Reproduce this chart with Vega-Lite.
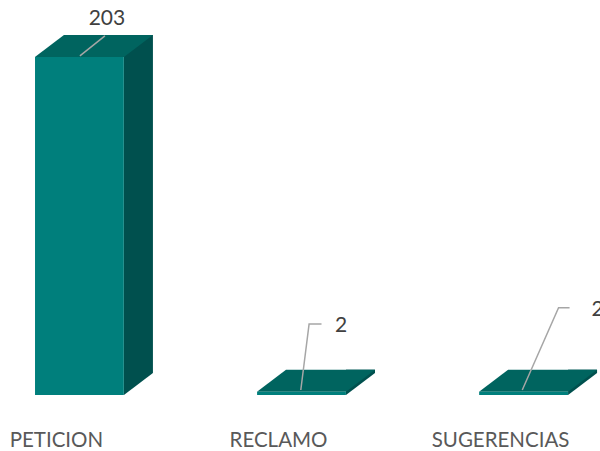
{
  "$schema": "https://vega.github.io/schema/vega-lite/v6.json",
  "width": 600,
  "height": 395,
  "autosize": {"type": "none"},
  "padding": {"left": 0, "top": 0, "right": 0, "bottom": 56},
  "background": "white",
  "config": {"view": {"stroke": null}},
  "data": {"values": [
    {"category": "PETICION", "value": 203},
    {"category": "RECLAMO", "value": 2},
    {"category": "SUGERENCIAS", "value": 2}
  ]},
  "encoding": {
    "x": {
      "field": "category", "type": "nominal", "sort": null,
      "scale": {"range": [0, 603], "paddingInner": 0.6, "paddingOuter": 0.1577},
      "axis": {"title": null, "domain": false, "ticks": false, "tickSize": 0, "labelAngle": 0,
               "labelFont": "Lato", "labelFontSize": 20.5, "labelColor": "#595959",
               "labelPadding": 35, "labelOffset": -23, "grid": false}
    },
    "y": {"field": "value", "type": "quantitative",
          "scale": {"domain": [0, 237.2], "nice": false, "zero": true}, "axis": null}
  },
  "layer": [
    {
      "mark": {"type": "bar", "width": 29, "xOffset": 59, "yOffset": -22, "y2Offset": 0, "color": "#00504E"},
      "encoding": {"y2": {"datum": 0}}
    },
    {
      "mark": {"type": "point", "shape": "M73.5,-22L82,-22L82,3L44.5,3L44.5,0Z", "size": 4, "filled": true, "color": "white", "opacity": 1, "strokeWidth": 0},
      "encoding": {"y": {"datum": 0, "type": "quantitative"}}
    },
    {
      "mark": {"type": "point", "shape": "M-44.5,0L44.5,0L73.5,-22L-15.5,-22Z", "size": 4, "filled": true, "color": "#00645F", "opacity": 1, "strokeWidth": 0}
    },
    {
      "mark": {"type": "bar", "color": "#007F7C"}
    },
    {
      "mark": {"type": "point", "size": 4, "filled": false, "stroke": "#A6A6A6", "strokeWidth": 1.5, "opacity": 1},
      "encoding": {
        "shape": {"field": "category", "type": "nominal", "legend": null,
                  "scale": {"domain": ["PETICION", "RECLAMO", "SUGERENCIAS"],
                            "range": ["M0.5,-1L25.5,-21", "M-0.7,-1.7L7.6,-67.7L20,-67.7", "M-1.3,-1.7L35,-84L46,-84"]}}
      }
    },
    {
      "transform": [{"filter": "datum.category === 'PETICION'"}],
      "mark": {"type": "text", "font": "Lato", "fontSize": 21, "color": "#404040", "align": "center", "baseline": "alphabetic", "dx": 27.5, "dy": -32},
      "encoding": {"text": {"field": "value", "type": "quantitative"}}
    },
    {
      "transform": [{"filter": "datum.category === 'RECLAMO'"}],
      "mark": {"type": "text", "font": "Lato", "fontSize": 21, "color": "#404040", "align": "center", "baseline": "alphabetic", "dx": 39.5, "dy": -59.7},
      "encoding": {"text": {"field": "value", "type": "quantitative"}}
    },
    {
      "transform": [{"filter": "datum.category === 'SUGERENCIAS'"}],
      "mark": {"type": "text", "font": "Lato", "fontSize": 21, "color": "#404040", "align": "center", "baseline": "alphabetic", "dx": 74, "dy": -75.7},
      "encoding": {"text": {"field": "value", "type": "quantitative"}}
    }
  ]
}
